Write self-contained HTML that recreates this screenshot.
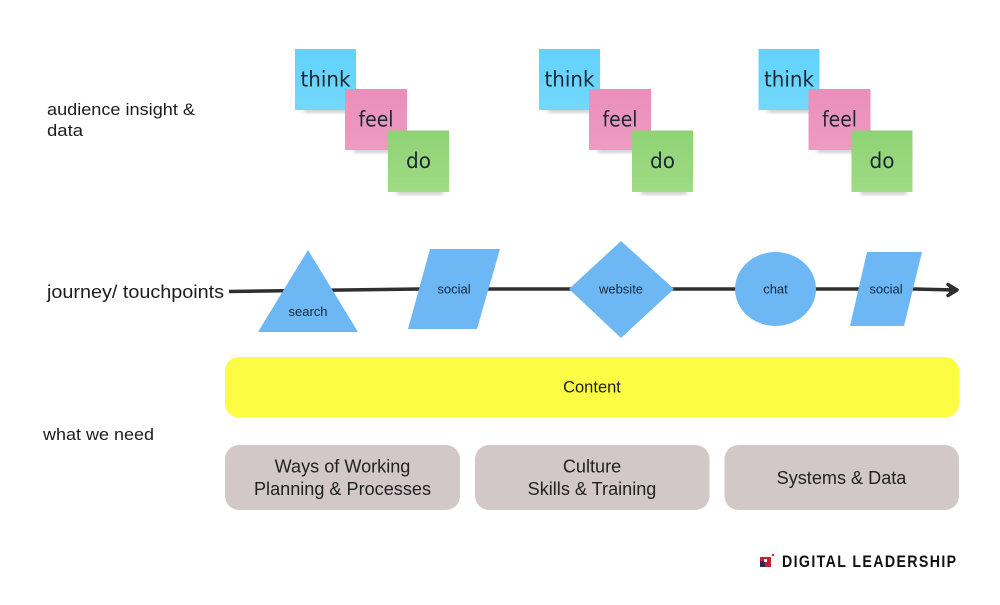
<!DOCTYPE html>
<html>
<head>
<meta charset="utf-8">
<style>
html,body{margin:0;padding:0;background:#fff;width:1000px;height:605px;overflow:hidden}
svg{display:block}
.r{font-family:"Liberation Sans",sans-serif;fill:#1c1c1c}
.n{font-family:"DejaVu Sans",sans-serif;font-size:21.5px;fill:#1d2733;text-anchor:middle}
.s{font-family:"Liberation Sans",sans-serif;font-size:13px;fill:#14283c;text-anchor:middle}
.m{font-family:"Liberation Sans",sans-serif;font-size:18.1px;fill:#222;text-anchor:middle}
</style>
</head>
<body>
<svg width="1000" height="605" viewBox="0 0 1000 605" xmlns="http://www.w3.org/2000/svg">
<defs>
<filter id="b" x="-20%" y="-60%" width="140%" height="220%"><feGaussianBlur stdDeviation="2"/></filter>
<linearGradient id="gb" x1="0" y1="0" x2="0" y2="1"><stop offset="0" stop-color="#62d2fb"/><stop offset="1" stop-color="#72d8fd"/></linearGradient>
<linearGradient id="gp" x1="0" y1="0" x2="0" y2="1"><stop offset="0" stop-color="#e98fba"/><stop offset="1" stop-color="#ee9ac2"/></linearGradient>
<linearGradient id="gg" x1="0" y1="0" x2="0" y2="1"><stop offset="0" stop-color="#8fd275"/><stop offset="1" stop-color="#9fdb85"/></linearGradient>
<g id="notes">
  <rect x="304" y="108" width="46" height="4" fill="#777" opacity=".5" filter="url(#b)"/>
  <rect x="295" y="49" width="61" height="61" fill="url(#gb)"/>
  <text class="n" x="325.500" y="86.500" textLength="50" lengthAdjust="spacingAndGlyphs">think</text>
  <rect x="354" y="148" width="46" height="4" fill="#777" opacity=".5" filter="url(#b)"/>
  <rect x="345" y="89" width="62" height="61" fill="url(#gp)"/>
  <text class="n" x="376" y="126.500" textLength="35" lengthAdjust="spacingAndGlyphs">feel</text>
  <rect x="397" y="190" width="46" height="4" fill="#777" opacity=".5" filter="url(#b)"/>
  <rect x="388" y="130.500" width="61" height="61.500" fill="url(#gg)"/>
  <text class="n" x="418.500" y="168" textLength="25" lengthAdjust="spacingAndGlyphs">do</text>
</g>
</defs>

<use href="#notes"/>
<use href="#notes" x="244"/>
<use href="#notes" x="463.500"/>

<text class="r" font-size="17" x="47" y="115" textLength="148" lengthAdjust="spacingAndGlyphs">audience insight &amp;</text>
<text class="r" font-size="17" x="47" y="136" textLength="36" lengthAdjust="spacingAndGlyphs">data</text>
<text class="r" font-size="18" x="47" y="298" textLength="177" lengthAdjust="spacingAndGlyphs">journey/ touchpoints</text>
<text class="r" font-size="17" x="43" y="440" textLength="111" lengthAdjust="spacingAndGlyphs">what we need</text>

<polyline points="229,291.500 420,289 914,289 955,290" fill="none" stroke="#2f2f2f" stroke-width="3.500"/>
<polyline points="948,284.500 957,290 948,295.500" fill="none" stroke="#2f2f2f" stroke-width="3.500" stroke-linejoin="round" stroke-linecap="round"/>
<polygon points="949,286 958,290 949,294" fill="#2f2f2f"/>

<polygon points="308,250 358,332 258,332" fill="#6db7f4"/>
<text class="s" x="308" y="316">search</text>

<polygon points="430,249 500,249 477,329 408,329" fill="#6db7f4"/>
<text class="s" x="454" y="293.500">social</text>

<polygon points="621,241 674,289 621,338 569,289" fill="#6db7f4"/>
<text class="s" x="621" y="293.500">website</text>

<ellipse cx="775.500" cy="289" rx="40.500" ry="37" fill="#6db7f4"/>
<text class="s" x="775.500" y="293.500">chat</text>

<polygon points="867,252 922,252 904,326 850,326" fill="#6db7f4"/>
<text class="s" x="886" y="293.500">social</text>

<rect x="225" y="357" width="734" height="60.500" rx="14" fill="#fdfc45"/>
<text class="r" font-size="16.500" x="592" y="392.500" text-anchor="middle">Content</text>

<rect x="225" y="445" width="235" height="65" rx="14" fill="#d3c8c8"/>
<text class="m" x="342.500" y="472.500">Ways of Working</text>
<text class="m" x="342.500" y="495">Planning &amp; Processes</text>

<rect x="475" y="445" width="234.500" height="65" rx="14" fill="#d3c8c8"/>
<text class="m" x="592" y="472.500">Culture</text>
<text class="m" x="592" y="495">Skills &amp; Training</text>

<rect x="724.500" y="445" width="234.500" height="65" rx="14" fill="#d3c8c8"/>
<text class="m" x="841.500" y="484">Systems &amp; Data</text>

<rect x="760" y="557" width="11" height="10" fill="#c8202f"/>
<rect x="760" y="561" width="5" height="6" fill="#2a2a4a"/>
<rect x="764" y="559" width="3" height="3" fill="#fff"/>
<rect x="772" y="554" width="2" height="2" fill="#d8202f"/>
<text x="782" y="567" font-family="'Liberation Sans',sans-serif" font-weight="bold" font-size="16.500" letter-spacing="1.600" fill="#111" textLength="175.500" lengthAdjust="spacingAndGlyphs">DIGITAL LEADERSHIP</text>
</svg>
</body>
</html>
